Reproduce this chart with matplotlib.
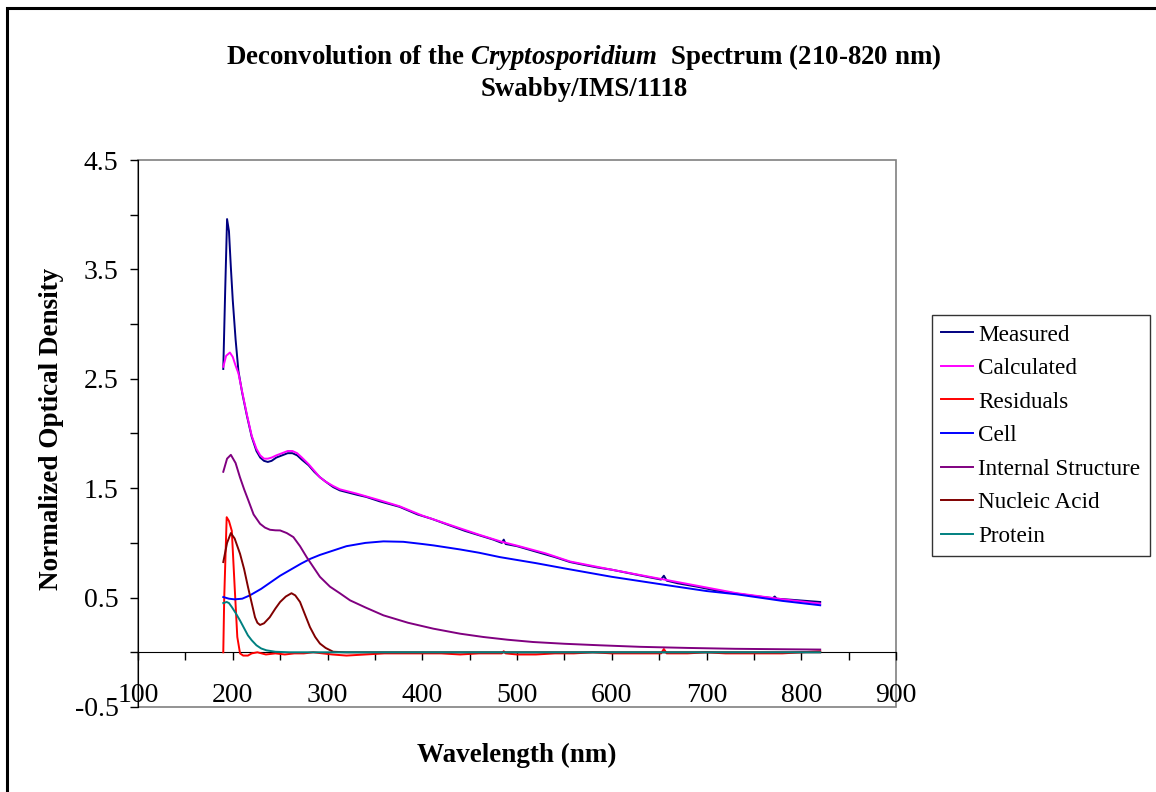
import matplotlib
matplotlib.use("Agg")
import matplotlib.pyplot as plt
from matplotlib.patches import Rectangle
from matplotlib.ticker import MultipleLocator, FixedLocator

plt.rcParams['font.family'] = ['Liberation Serif', 'DejaVu Serif']
plt.rcParams['mathtext.fontset'] = 'custom'
plt.rcParams['mathtext.rm'] = 'Liberation Serif'
plt.rcParams['mathtext.it'] = 'Liberation Serif:italic'
plt.rcParams['mathtext.bf'] = 'Liberation Serif:bold'
plt.rcParams['mathtext.bfit'] = 'Liberation Serif:italic:bold'

# ---- data ----
meas_x = [190, 192, 194, 196, 198, 200, 203, 206, 210, 215, 220, 225, 229, 233, 237, 241,
          246, 252, 258, 263, 268, 273, 280, 286, 292, 298, 306, 313, 322, 331, 341, 355,
          376, 395, 410, 429, 445, 460, 475, 484, 486, 488, 500, 520, 540, 556, 570, 585,
          600, 620, 640, 652, 655, 658, 670, 690, 710, 732, 750, 770, 772, 774, 790, 805, 820]
meas_y = [2.59, 3.30, 3.96, 3.85, 3.52, 3.22, 2.86, 2.57, 2.37, 2.16, 1.97, 1.84, 1.78, 1.75,
          1.74, 1.75, 1.78, 1.80, 1.82, 1.82, 1.80, 1.76, 1.71, 1.65, 1.60, 1.56, 1.51, 1.48,
          1.46, 1.44, 1.42, 1.38, 1.33, 1.26, 1.22, 1.16, 1.11, 1.07, 1.03, 1.00, 1.03, 0.99,
          0.97, 0.92, 0.87, 0.825, 0.80, 0.775, 0.755, 0.72, 0.685, 0.665, 0.70, 0.655, 0.63,
          0.60, 0.565, 0.536, 0.515, 0.495, 0.51, 0.49, 0.48, 0.47, 0.46]

calc_x = [190, 193, 197, 200, 203, 206, 210, 215, 220, 225, 229, 233, 237, 241, 246, 252,
          258, 263, 268, 273, 280, 286, 292, 298, 306, 313, 322, 331, 341, 355, 376, 400,
          429, 460, 484, 500, 530, 556, 600, 640, 680, 732, 780, 820]
calc_y = [2.61, 2.71, 2.74, 2.70, 2.62, 2.55, 2.38, 2.17, 1.98, 1.86, 1.80, 1.77, 1.77, 1.78,
          1.80, 1.82, 1.84, 1.84, 1.82, 1.78, 1.72, 1.66, 1.60, 1.56, 1.52, 1.49, 1.47, 1.45,
          1.425, 1.39, 1.335, 1.25, 1.165, 1.075, 1.01, 0.975, 0.905, 0.83, 0.755, 0.69,
          0.625, 0.54, 0.485, 0.445]

resid_x = [190, 191, 193.6, 196, 199, 202, 204.8, 207.7, 211, 216, 220, 226, 235, 245, 255,
           265, 275, 285, 295, 305, 320, 340, 360, 380, 400, 420, 440, 460, 484, 486, 488,
           500, 520, 540, 560, 580, 600, 620, 640, 652, 655, 658, 680, 700, 720, 740, 760,
           780, 800, 820]
resid_y = [0.0, 0.5, 1.235, 1.2, 1.11, 0.60, 0.14, -0.01, -0.03, -0.03, -0.01, 0.0, -0.02,
           -0.01, -0.02, -0.01, -0.01, 0.0, -0.01, -0.02, -0.03, -0.02, -0.01, -0.01, -0.01,
           -0.01, -0.02, -0.01, -0.01, 0.01, -0.01, -0.02, -0.02, -0.01, -0.01, 0.0, -0.01,
           -0.01, -0.01, -0.01, 0.03, -0.01, -0.01, 0.0, -0.01, -0.01, -0.01, -0.01, 0.0, 0.01]

cell_x = [190, 196, 202, 210, 218, 230, 240, 250, 262, 272, 282, 292, 306, 320, 340, 359,
          380, 400, 412, 440, 460, 482, 520, 552, 600, 661, 700, 732, 780, 820]
cell_y = [0.505, 0.49, 0.484, 0.49, 0.52, 0.58, 0.64, 0.70, 0.76, 0.81, 0.855, 0.89, 0.93,
          0.97, 1.0, 1.014, 1.01, 0.99, 0.977, 0.94, 0.91, 0.87, 0.815, 0.764, 0.69, 0.61,
          0.56, 0.53, 0.47, 0.43]

intl_x = [190, 194, 198, 203, 207.6, 212, 216.4, 222, 228.8, 234, 239.3, 245, 250, 257, 264,
          271, 278, 285, 292, 302.6, 313, 323.8, 340, 359, 385, 411.7, 440, 464.4, 490, 517,
          550, 587.6, 630, 680, 730, 780, 820]
intl_y = [1.65, 1.77, 1.805, 1.73, 1.60, 1.49, 1.39, 1.26, 1.175, 1.14, 1.12, 1.115, 1.114,
          1.09, 1.053, 0.97, 0.87, 0.78, 0.69, 0.60, 0.54, 0.475, 0.41, 0.338, 0.27, 0.216,
          0.17, 0.14, 0.115, 0.094, 0.078, 0.064, 0.05, 0.04, 0.032, 0.028, 0.025]

nucl_x = [190, 194, 198, 202, 207.7, 212, 216, 220, 223.5, 226, 228.8, 233, 239, 245, 250,
          256, 262, 266, 271, 276, 281.5, 287, 292, 298, 306, 320, 400, 500, 600, 700, 820]
nucl_y = [0.825, 1.0, 1.09, 1.04, 0.90, 0.76, 0.60, 0.45, 0.32, 0.27, 0.25, 0.265, 0.32,
          0.40, 0.46, 0.51, 0.54, 0.52, 0.46, 0.35, 0.23, 0.14, 0.08, 0.04, 0.005, 0.0, 0.0,
          0.0, 0.0, 0.0, 0.0]

prot_x = [190, 193.6, 196, 199, 203, 207.7, 212, 216, 220, 225, 230, 235.6, 245, 260, 300,
          400, 500, 600, 700, 820]
prot_y = [0.45, 0.46, 0.45, 0.414, 0.36, 0.29, 0.22, 0.155, 0.11, 0.064, 0.035, 0.018,
          0.005, 0.0, 0.0, 0.0, 0.0, 0.0, 0.0, 0.0]

series = [
    ("Measured", meas_x, meas_y, "#000080"),
    ("Calculated", calc_x, calc_y, "#FF00FF"),
    ("Residuals", resid_x, resid_y, "#FF0000"),
    ("Cell", cell_x, cell_y, "#0000FF"),
    ("Internal Structure", intl_x, intl_y, "#800080"),
    ("Nucleic Acid", nucl_x, nucl_y, "#800000"),
    ("Protein", prot_x, prot_y, "#008080"),
]

x_major = [100, 200, 300, 400, 500, 600, 700, 800, 900]
y_major = [-0.5, 0.5, 1.5, 2.5, 3.5, 4.5]

W, H = 1156, 792
fig = plt.figure(figsize=(W / 100, H / 100), dpi=100)
ax = fig.add_axes([138 / W, 1 - 707 / H, 758 / W, 547 / H])

for name, xs, ys, col in series:
    ax.plot(xs, ys, color=col, lw=1.4, label=name, clip_on=False, zorder=3)

ax.set_xlim(100, 900)
ax.set_ylim(-0.5, 4.5)

# spines
ax.spines['top'].set_visible(False)
ax.spines['right'].set_visible(False)
ax.spines['bottom'].set_position(('data', 0))
ax.spines['bottom'].set_color('black')
ax.spines['left'].set_color('black')
ax.spines['left'].set_zorder(4)
ax.add_patch(Rectangle((0, 0), 1, 1, transform=ax.transAxes, fill=False,
                       edgecolor='#808080', lw=1.2, clip_on=False, zorder=1))

ax.xaxis.set_major_locator(FixedLocator(x_major))
ax.xaxis.set_minor_locator(MultipleLocator(50))
ax.yaxis.set_major_locator(FixedLocator(y_major))
ax.yaxis.set_minor_locator(MultipleLocator(0.5))
ax.set_xticklabels([str(v) for v in x_major])
ax.set_yticklabels([f"{v:g}" for v in y_major])
ax.tick_params(axis='x', which='both', direction='out', length=6, width=1, labelsize=20, pad=16)
ax.tick_params(axis='y', which='both', direction='out', length=6, width=1, labelsize=20, pad=8)

ax.set_xlabel("Wavelength (nm)", fontsize=19.5, fontweight='bold')
ax.xaxis.set_label_coords(0.5, -0.065)
ax.set_ylabel("Normalized Optical Density", fontsize=19.5, fontweight='bold')
ax.yaxis.set_label_coords(-0.097, 0.509)

fig.text(0.505, 1 - 57 / H,
         "Deconvolution of the $\\mathbfit{Cryptosporidium}$  Spectrum (210-820 nm)",
         ha='center', va='center', fontsize=19.4, fontweight='bold')
fig.text(0.505, 1 - 89 / H, "Swabby/IMS/1118", ha='center', va='center',
         fontsize=19.4, fontweight='bold')

leg = fig.legend(loc='upper left', bbox_to_anchor=(932 / W, 1 - 315 / H), fontsize=16.7,
                 frameon=True, fancybox=False, handlelength=1.38, handletextpad=0.22,
                 labelspacing=0.53, borderpad=0.4, borderaxespad=0)
leg.get_frame().set_edgecolor('black')
leg.get_frame().set_linewidth(1.0)

# outer chart border
fig.add_artist(Rectangle((7 / W, -0.05), 1.2, 1 - 8 / H + 0.05, transform=fig.transFigure,
                         fill=False, edgecolor='black', lw=2.2))

fig.savefig("out.png", dpi=100)
